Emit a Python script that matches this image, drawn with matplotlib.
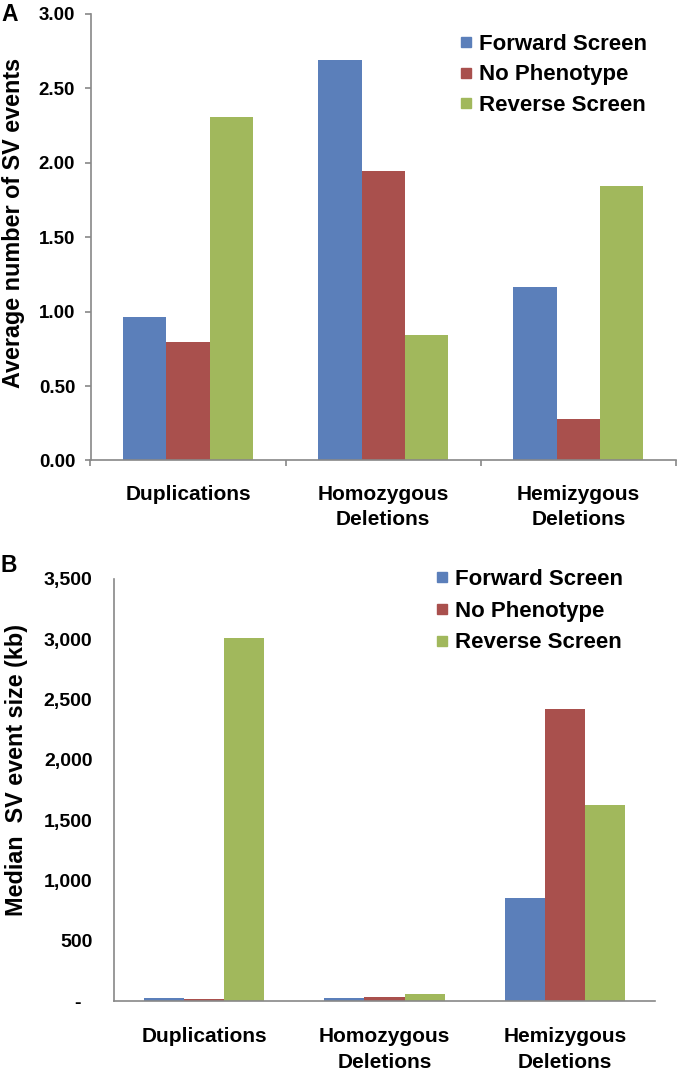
import numpy as np
import matplotlib.pyplot as plt
from matplotlib.lines import Line2D
from matplotlib.ticker import FuncFormatter

plt.rcParams['font.family'] = ['Liberation Sans', 'DejaVu Sans']
plt.rcParams['font.weight'] = 'bold'

categories = ['Duplications', 'Homozygous\nDeletions', 'Hemizygous\nDeletions']
series = ['Forward Screen', 'No Phenotype', 'Reverse Screen']
colors = ['#5B7FBA', '#A9504D', '#A1B85C']

# panel A: average number of SV events
avg_forward = [0.965, 2.69, 1.165]
avg_nopheno = [0.795, 1.945, 0.28]
avg_reverse = [2.31, 0.845, 1.845]

# panel B: median SV event size (kb)
med_forward = [28, 28, 858]
med_nopheno = [15, 37, 2425]
med_reverse = [3010, 55, 1625]

W, H = 679, 1073
fig = plt.figure(figsize=(W / 100, H / 100), dpi=100)

def axes_px(left, top, right, bottom):
    return fig.add_axes([left / W, 1 - bottom / H, (right - left) / W, (bottom - top) / H])

axA = axes_px(90.5, 14, 676, 460.5)
axB = axes_px(114, 579, 655, 1001)

x = np.arange(len(categories))
bw = 0.222
spine_col = '#888888'

def draw(ax, data):
    for i, (vals, c) in enumerate(zip(data, colors)):
        ax.bar(x + (i - 1) * bw, vals, bw, color=c, linewidth=0)
    ax.set_xlim(-0.5, len(categories) - 0.5)
    for s in ['top', 'right']:
        ax.spines[s].set_visible(False)
    for s in ['left', 'bottom']:
        ax.spines[s].set_color(spine_col)
        ax.spines[s].set_linewidth(1.2)
    ax.set_xticks(x)
    ax.set_xticklabels(categories, fontsize=15, fontweight='bold', linespacing=1.42)

draw(axA, [avg_forward, avg_nopheno, avg_reverse])
axA.set_ylim(0, 3)
axA.set_yticks(np.arange(0, 3.01, 0.5))
axA.yaxis.set_major_formatter(FuncFormatter(lambda v, p: '%.2f' % v))
axA.tick_params(axis='y', length=4, width=1.2, color=spine_col, pad=7, labelsize=13.5)
axA.set_xticks(np.arange(-0.5, len(categories)), minor=True)
axA.tick_params(axis='x', which='major', length=0, pad=17.5)
axA.tick_params(axis='x', which='minor', length=4, width=1.2, color=spine_col)

draw(axB, [med_forward, med_nopheno, med_reverse])
axB.set_ylim(0, 3500)
axB.set_yticks(np.arange(0, 3501, 500))
axB.yaxis.set_major_formatter(FuncFormatter(lambda v, p: '-  ' if v == 0 else '{:,.0f}'.format(v)))
axB.tick_params(axis='y', length=0, pad=15.5, labelsize=14)
axB.tick_params(axis='x', length=0, pad=19)

fig.text(13.5 / W, 1 - 223 / H, 'Average number of SV events', rotation=90,
         ha='center', va='center', fontsize=16.8, fontweight='bold')
fig.text(17 / W, 1 - 770 / H, 'Median  SV event size (kb)', rotation=90,
         ha='center', va='center', fontsize=16.8, fontweight='bold')
fig.text(1 / W, 1 - 14.5 / H, 'A', ha='left', va='center', fontsize=16.5, fontweight='bold')
fig.text(1 / W, 1 - 565 / H, 'B', ha='left', va='center', fontsize=16.5, fontweight='bold')

handles = [Line2D([], [], marker='s', linestyle='', color=c, markersize=7.5) for c in colors]
axA.legend(handles, series, loc='upper left', bbox_to_anchor=(459 / W, 1 - 33.5 / H),
           bbox_transform=fig.transFigure, frameon=False,
           prop={'weight': 'bold', 'size': 16}, handlelength=0.6, handletextpad=0.3,
           labelspacing=0.44, borderpad=0, borderaxespad=0)
axB.legend(handles, series, loc='upper left', bbox_to_anchor=(435 / W, 1 - 569 / H),
           bbox_transform=fig.transFigure, frameon=False,
           prop={'weight': 'bold', 'size': 16}, handlelength=0.6, handletextpad=0.3,
           labelspacing=0.48, borderpad=0, borderaxespad=0)

fig.savefig('out.png', dpi=100)
